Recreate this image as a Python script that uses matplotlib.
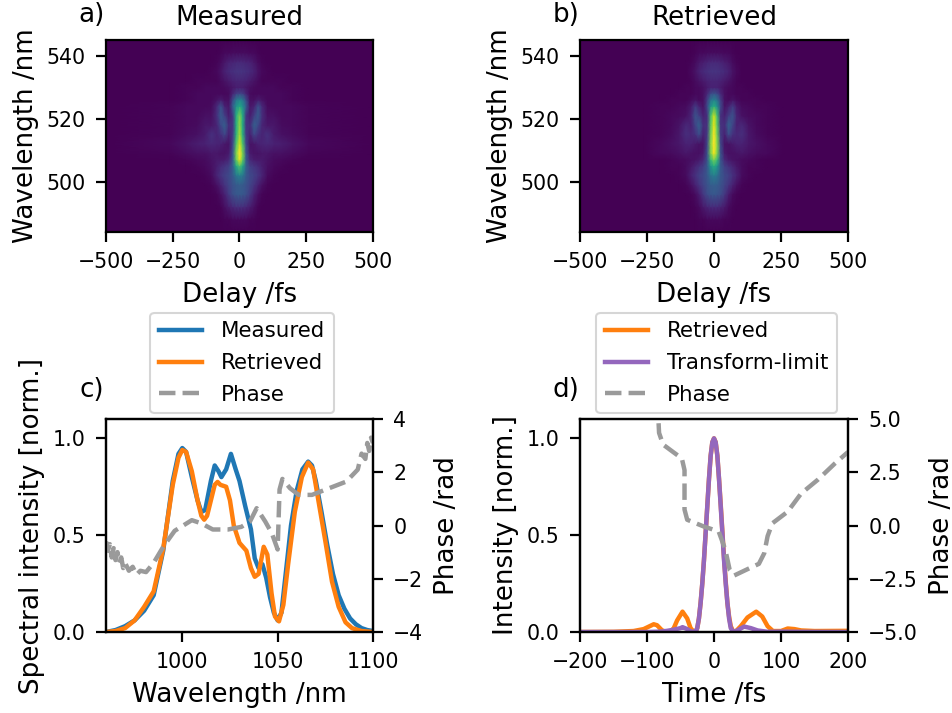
import matplotlib
matplotlib.use("Agg")
import matplotlib.pyplot as plt
import numpy as np

W, H = 953, 713

# FROG traces, read by eye: one half of the delay axis, mirrored later
abs_delay = [0, 12, 25, 40, 55, 70, 85, 105, 130, 160, 200, 260, 500]
trace_wl = [484, 488, 492, 496, 499, 502, 505, 507, 509, 512, 515, 518, 521, 524, 526, 528, 530, 532, 535, 538, 541, 545]

measured_trace = [
    [.00, .00, .00, .00, .00, .00, .00, .00, .00, .00, .00, .00, .00],
    [.02, .02, .02, .01, .01, .00, .00, .00, .00, .00, .00, .00, .00],
    [.13, .13, .11, .08, .04, .01, .00, .00, .00, .00, .00, .00, .00],
    [.28, .27, .24, .17, .09, .04, .01, .00, .00, .00, .00, .00, .00],
    [.29, .28, .25, .20, .15, .09, .04, .01, .00, .00, .00, .00, .00],
    [.44, .40, .28, .22, .19, .15, .10, .03, .01, .00, .00, .00, .00],
    [.72, .60, .30, .18, .15, .12, .08, .04, .02, .01, .00, .00, .00],
    [.96, .76, .28, .11, .08, .07, .07, .05, .03, .02, .01, .00, .00],
    [1.0, .80, .26, .07, .05, .05, .06, .06, .04, .04, .03, .01, .00],
    [.93, .72, .21, .05, .06, .09, .10, .11, .09, .08, .05, .02, .00],
    [.86, .64, .17, .09, .21, .14, .10, .14, .07, .04, .03, .01, .00],
    [.83, .62, .15, .13, .30, .22, .10, .06, .06, .03, .02, .01, .00],
    [.80, .62, .16, .08, .18, .28, .13, .04, .04, .02, .02, .01, .00],
    [.60, .50, .30, .06, .09, .24, .11, .03, .02, .02, .02, .01, .00],
    [.46, .40, .22, .04, .04, .08, .05, .02, .02, .02, .01, .00, .00],
    [.20, .18, .10, .03, .02, .02, .02, .02, .02, .02, .01, .00, .00],
    [.08, .08, .06, .04, .03, .02, .02, .02, .02, .01, .01, .00, .00],
    [.10, .10, .09, .07, .05, .03, .01, .01, .01, .01, .00, .00, .00],
    [.15, .15, .14, .12, .09, .05, .02, .01, .00, .00, .00, .00, .00],
    [.11, .11, .10, .09, .06, .03, .01, .00, .00, .00, .00, .00, .00],
    [.03, .03, .03, .02, .02, .01, .00, .00, .00, .00, .00, .00, .00],
    [.00, .00, .00, .00, .00, .00, .00, .00, .00, .00, .00, .00, .00],
]

retrieved_trace = [
    [.00, .00, .00, .00, .00, .00, .00, .00, .00, .00, .00, .00, .00],
    [.02, .02, .02, .01, .01, .00, .00, .00, .00, .00, .00, .00, .00],
    [.12, .12, .10, .07, .03, .01, .00, .00, .00, .00, .00, .00, .00],
    [.27, .26, .23, .16, .08, .03, .01, .00, .00, .00, .00, .00, .00],
    [.30, .29, .25, .20, .15, .09, .04, .01, .00, .00, .00, .00, .00],
    [.42, .38, .27, .22, .19, .14, .09, .03, .01, .00, .00, .00, .00],
    [.62, .52, .28, .18, .14, .10, .06, .03, .01, .01, .00, .00, .00],
    [.80, .68, .26, .11, .07, .05, .04, .03, .02, .01, .00, .00, .00],
    [.98, .80, .25, .07, .04, .04, .05, .06, .04, .03, .02, .00, .00],
    [1.0, .82, .21, .05, .05, .07, .09, .09, .06, .04, .02, .00, .00],
    [.99, .78, .17, .09, .23, .14, .11, .13, .06, .03, .01, .00, .00],
    [.96, .74, .15, .13, .31, .20, .09, .11, .05, .02, .01, .00, .00],
    [.92, .70, .14, .09, .18, .25, .10, .04, .03, .02, .01, .00, .00],
    [.62, .50, .22, .05, .09, .17, .07, .03, .02, .01, .01, .00, .00],
    [.44, .38, .18, .04, .03, .05, .03, .01, .01, .01, .00, .00, .00],
    [.25, .22, .11, .04, .02, .02, .01, .01, .01, .00, .00, .00, .00],
    [.09, .09, .07, .04, .03, .02, .01, .01, .00, .00, .00, .00, .00],
    [.10, .10, .09, .07, .05, .03, .01, .00, .00, .00, .00, .00, .00],
    [.15, .15, .14, .12, .09, .05, .02, .00, .00, .00, .00, .00, .00],
    [.11, .11, .10, .08, .06, .03, .01, .00, .00, .00, .00, .00, .00],
    [.03, .03, .03, .02, .02, .01, .00, .00, .00, .00, .00, .00, .00],
    [.00, .00, .00, .00, .00, .00, .00, .00, .00, .00, .00, .00, .00],
]

# panel c
meas_wl = [960, 965, 970, 975, 980, 985, 990, 995, 998, 1000, 1002, 1005, 1008, 1010, 1012, 1015, 1017, 1019, 1020.5,
           1023, 1025.5, 1028, 1030, 1033, 1036, 1038, 1040, 1042, 1044, 1046, 1048, 1050, 1052, 1054, 1057, 1060,
           1063, 1066, 1068, 1070, 1073, 1076, 1079, 1082, 1085, 1088, 1091, 1094, 1097, 1100]
meas_spec = [0, .01, .03, .06, .11, .19, .42, .78, .92, .95, .93, .80, .68, .62, .63, .78, .86, .83, .80,
             .84, .92, .84, .78, .65, .53, .38, .33, .35, .28, .18, .10, .06, .10, .28, .55, .73,
             .84, .88, .86, .78, .62, .45, .30, .19, .12, .07, .04, .02, .01, .005]
ret_wl = [960, 965, 970, 975, 980, 985, 990, 995, 998, 1000, 1002, 1005, 1008, 1010, 1011.5, 1013, 1015, 1017, 1018.5,
          1020, 1023, 1025, 1027, 1030, 1033.6, 1036, 1038, 1040, 1042.7, 1044.6, 1046.8, 1048.6, 1050.7, 1053,
          1055.5, 1059, 1062.7, 1066, 1068.6, 1071, 1075, 1078.5, 1082, 1085.6, 1089, 1094, 1100]
ret_spec = [0, .005, .02, .06, .13, .21, .43, .76, .90, .94, .93, .83, .68, .60, .58, .60, .68, .76, .775,
            .76, .75, .68, .55, .46, .42, .33, .285, .30, .44, .40, .20, .08, .055, .14,
            .35, .62, .80, .875, .84, .70, .47, .26, .13, .05, .02, .005, 0]
phase_wl = [960, 961, 962, 963, 964, 965, 966, 967, 968, 969, 970, 972, 974, 976, 978, 981, 985, 990, 996, 1005, 1010,
            1016, 1024, 1031, 1035.5, 1039, 1043.5, 1047, 1050, 1051, 1052.5, 1056.5, 1061, 1068, 1077, 1086, 1092,
            1094, 1096, 1097, 1098, 1099, 1100]
phase_c = [-.6, -.95, -.7, -1.2, -.85, -1.3, -1.0, -1.4, -1.2, -1.6, -1.4, -1.7, -1.55, -1.85, -1.7, -1.75, -1.4, -.8,
           -.2, .2, .08, -.15, -.15, -.05, .15, .65, .15, -.3, -.9, 1.35, 1.75, 1.4, 1.15, 1.15, 1.4, 1.65, 2.1,
           2.7, 2.5, 3.1, 2.8, 3.3, 3.1]

# panel d
time_ret = [-200, -150, -120, -105, -90, -85, -78, -72, -65, -60, -55, -47, -40, -35, -30, -27, -25, -22.5, -20, -17.5,
            -15, -12.5, -10, -7.5, -5, -2.5, 0, 2.5, 5, 7.5, 10, 12.5, 15, 17.5, 20, 22.5, 25, 29, 33, 40, 50, 63,
            72, 80, 88, 100, 110, 120, 130, 150, 200]
int_ret = [0, .001, .005, .015, .04, .035, .01, 0, .002, .02, .06, .105, .07, .02, 0, .005, .02, .07, .15, .25,
           .37, .51, .65, .79, .91, .98, 1, .98, .91, .79, .66, .52, .38, .26, .15, .08, .03, 0, .005, .03, .075, .105,
           .08, .03, .005, .005, .018, .015, .008, .005, .006]
time_tl = [-200, -100, -80, -70, -60, -50, -47, -40, -35, -30, -27, -25, -22.5, -20, -17.5,
           -15, -12.5, -10, -7.5, -5, -2.5, 0, 2.5, 5, 7.5, 10, 12.5, 15, 17.5, 20, 22.5, 25, 29, 35, 45, 55, 65,
           80, 100, 130, 200]
int_tl = [0, 0, .002, .006, .012, .02, .025, .015, .004, 0, .005, .02, .07, .15, .25,
          .37, .51, .65, .79, .91, .98, 1, .98, .91, .79, .65, .51, .37, .25, .15, .07, .02, 0, .008, .028, .02, .008,
          .001, .002, .001, 0]
phase_t = [-90, -85, -83, -82, -76, -61, -48, -44, -44, -40, -15, 7, 17, 23.5, 30, 50, 67, 75, 80, 87, 110, 130, 155,
           180, 200]
phase_d = [7, 5.4, 5, 4.35, 3.8, 3.45, 3.15, 2.6, .75, .27, -.05, -.28, -1.15, -2.1, -2.35, -2.05, -1.8, -1.3, -.5,
           .1, .65, 1.5, 2.15, 2.9, 3.45]

delay_ticks = [-500, -250, 0, 250, 500]
BLUE, ORANGE, PURPLE = "tab:blue", "tab:orange", "tab:purple"
GRAY = "#9a9a9a"
TICK = 14.8
LABEL = 18.8
LEGEND = 15.4
LW = 3.2
LEFT_PAD = 5.8
RIGHT_PAD = 7.6
XPAD = 7


def px_axes(fig, x0, x1, y0, y1):
    return fig.add_axes([x0 / W, 1 - y1 / H, (x1 - x0) / W, (y1 - y0) / H])


def style(ax):
    ax.tick_params(labelsize=TICK, width=1.6, length=7.5, pad=7)
    for s in ax.spines.values():
        s.set_linewidth(1.6)


def add_legend(ax, handles):
    leg = ax.legend(handles=handles, loc="lower center", bbox_to_anchor=(0.51, 1.026), borderaxespad=0,
                    fontsize=LEGEND, labelspacing=0.55, handletextpad=0.9)
    leg.get_frame().set_linewidth(1.5)


def draw_trace(ax, half, title):
    half = np.array(half)
    full = np.hstack([half[:, :0:-1], half])
    delay = np.r_[-np.array(abs_delay[:0:-1]), abs_delay]
    ax.pcolormesh(delay, trace_wl, full, cmap="viridis", shading="gouraud", vmin=0, vmax=1, rasterized=True)
    ax.set_xlim(-500, 500)
    ax.set_ylim(484, 545)
    ax.set_xticks(delay_ticks)
    ax.set_yticks([500, 520, 540])
    ax.set_xlabel("Delay /fs", fontsize=LABEL, labelpad=XPAD)
    ax.set_ylabel("Wavelength /nm", fontsize=LABEL, labelpad=LEFT_PAD)
    ax.set_title(title, fontsize=LABEL, pad=11)
    style(ax)


def main():
    fig = plt.figure(figsize=(W / 100, H / 100), dpi=100)

    ax_a = px_axes(fig, 106, 373, 40, 232)
    ax_b = px_axes(fig, 580, 848, 40, 232)
    draw_trace(ax_a, measured_trace, "Measured")
    draw_trace(ax_b, retrieved_trace, "Retrieved")

    ax_c = px_axes(fig, 106, 373, 419, 632)
    l1, = ax_c.plot(meas_wl, meas_spec, color=BLUE, lw=LW, label="Measured")
    l2, = ax_c.plot(ret_wl, ret_spec, color=ORANGE, lw=LW, label="Retrieved")
    ax_c.set_xlim(960, 1100)
    ax_c.set_ylim(0, 1.1)
    ax_c.set_xticks([1000, 1050, 1100])
    ax_c.set_yticks([0, .5, 1])
    ax_c.set_xlabel("Wavelength /nm", fontsize=LABEL, labelpad=XPAD)
    ax_c.set_ylabel("Spectral intensity [norm.]", fontsize=LABEL, labelpad=LEFT_PAD)
    style(ax_c)
    tw_c = ax_c.twinx()
    l3, = tw_c.plot(phase_wl, phase_c, color=GRAY, lw=LW, ls="--", label="Phase")
    tw_c.set_ylim(-4, 4)
    tw_c.set_yticks([-4, -2, 0, 2, 4])
    tw_c.set_ylabel("Phase /rad", fontsize=LABEL, labelpad=RIGHT_PAD)
    style(tw_c)
    add_legend(ax_c, [l1, l2, l3])

    ax_d = px_axes(fig, 580, 848, 419, 632)
    l4, = ax_d.plot(time_ret, int_ret, color=ORANGE, lw=LW, label="Retrieved")
    l5, = ax_d.plot(time_tl, int_tl, color=PURPLE, lw=LW, label="Transform-limit")
    ax_d.set_xlim(-200, 200)
    ax_d.set_ylim(0, 1.1)
    ax_d.set_xticks([-200, -100, 0, 100, 200])
    ax_d.set_yticks([0, .5, 1])
    ax_d.set_xlabel("Time /fs", fontsize=LABEL, labelpad=XPAD)
    ax_d.set_ylabel("Intensity [norm.]", fontsize=LABEL, labelpad=LEFT_PAD)
    style(ax_d)
    tw_d = ax_d.twinx()
    l6, = tw_d.plot(phase_t, phase_d, color=GRAY, lw=LW, ls="--", label="Phase")
    tw_d.set_ylim(-5, 5)
    tw_d.set_yticks([-5, -2.5, 0, 2.5, 5])
    tw_d.set_ylabel("Phase /rad", fontsize=LABEL, labelpad=RIGHT_PAD)
    style(tw_d)
    add_legend(ax_d, [l4, l5, l6])

    # panel letters
    for txt, x, y in [("a)", 92, 15), ("b)", 566, 15), ("c)", 92, 390), ("d)", 566, 390)]:
        fig.text(x / W, 1 - y / H, txt, fontsize=LABEL, ha="center", va="center")

    fig.savefig("out.png", dpi=100)
    plt.close(fig)


if __name__ == "__main__":
    main()
